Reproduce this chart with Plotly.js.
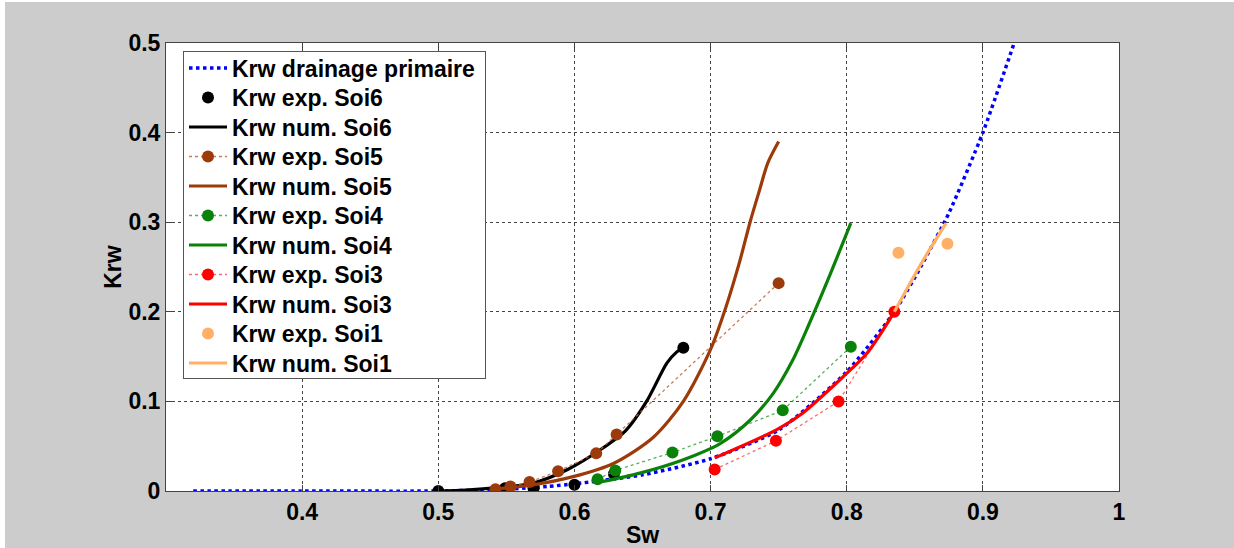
<!DOCTYPE html>
<html>
<head>
<meta charset="utf-8">
<script src="https://cdn.plot.ly/plotly-3.0.1.min.js"></script>
<style>
  html, body { margin: 0; padding: 0; background: #ffffff; width: 1234px; height: 548px; overflow: hidden; }
  #chart { position: absolute; left: 5px; top: 2px; width: 1229px; height: 546px; }
</style>
</head>
<body>
<div id="chart"></div>
<script>
// ---- data ----
const drainX = [0.32, 0.40, 0.50, 0.55, 0.58, 0.60, 0.65, 0.70, 0.75, 0.80, 0.835, 0.855, 0.875, 0.90, 0.923];
const drainY = [0.0, 0.0, 0.0, 0.002, 0.005, 0.008, 0.018, 0.036, 0.068, 0.133, 0.200, 0.252, 0.310, 0.400, 0.500];

const exp6X = [0.500, 0.549, 0.570, 0.600, 0.629, 0.680];
const exp6Y = [0.000, 0.003, 0.003, 0.007, 0.019, 0.160];
const num6X = [0.500, 0.520, 0.545, 0.570, 0.595, 0.619, 0.638, 0.653, 0.668, 0.675, 0.680];
const num6Y = [0.000, 0.001, 0.004, 0.009, 0.024, 0.046, 0.068, 0.100, 0.143, 0.155, 0.160];

const exp5X = [0.542, 0.553, 0.567, 0.588, 0.616, 0.631, 0.750];
const exp5Y = [0.002, 0.005, 0.010, 0.022, 0.042, 0.063, 0.232];
const num5X = [0.540, 0.570, 0.599, 0.629, 0.658, 0.680, 0.700, 0.711, 0.721, 0.729, 0.736, 0.742, 0.750];
const num5Y = [0.002, 0.007, 0.016, 0.031, 0.060, 0.100, 0.158, 0.204, 0.254, 0.300, 0.336, 0.366, 0.390];

const exp4X = [0.617, 0.630, 0.672, 0.705, 0.753, 0.803];
const exp4Y = [0.013, 0.023, 0.043, 0.061, 0.090, 0.161];
const num4X = [0.619, 0.648, 0.680, 0.707, 0.729, 0.746, 0.760, 0.772, 0.786, 0.803];
const num4Y = [0.010, 0.020, 0.035, 0.053, 0.079, 0.109, 0.145, 0.185, 0.235, 0.299];

const exp3X = [0.703, 0.748, 0.794, 0.835];
const exp3Y = [0.024, 0.056, 0.100, 0.200];
const num3X = [0.703, 0.748, 0.766, 0.797, 0.815, 0.835];
const num3Y = [0.037, 0.068, 0.085, 0.127, 0.154, 0.200];

const exp1X = [0.838, 0.874];
const exp1Y = [0.266, 0.276];
const num1X = [0.835, 0.854, 0.873];
const num1Y = [0.200, 0.252, 0.299];

const legendNames = [
  'Krw drainage primaire', 'Krw exp. Soi6', 'Krw num. Soi6', 'Krw exp. Soi5', 'Krw num. Soi5',
  'Krw exp. Soi4', 'Krw num. Soi4', 'Krw exp. Soi3', 'Krw num. Soi3', 'Krw exp. Soi1', 'Krw num. Soi1'
];
const xTicks = [0.4, 0.5, 0.6, 0.7, 0.8, 0.9, 1];
const xTickText = ['0.4', '0.5', '0.6', '0.7', '0.8', '0.9', '1'];
const yTicks = [0, 0.1, 0.2, 0.3, 0.4, 0.5];
const yTickText = ['0', '0.1', '0.2', '0.3', '0.4', '0.5'];

// ---- styles ----
const BLUE = '#0000ff', BLACK = '#000000', BROWN = '#9c3a0a', GREEN = '#0a820a', RED = '#ff0000', ORANGE = '#ffb066';
const MS = 12;

function numTrace(x, y, name, color) {
  return { x: x, y: y, name: name, type: 'scatter', mode: 'lines',
    line: { color: color, width: 3.2, shape: 'spline', smoothing: 0.8 } };
}
function expTrace(x, y, name, color, dashColor) {
  const t = { x: x, y: y, name: name, type: 'scatter',
    marker: { color: color, size: MS, symbol: 'circle' } };
  if (dashColor) {
    t.mode = 'lines+markers';
    t.line = { color: dashColor, width: 1.3, dash: 'dot' };
  } else {
    t.mode = 'markers';
  }
  return t;
}

const traces = [
  { x: drainX, y: drainY, name: legendNames[0], type: 'scatter', mode: 'lines',
    line: { color: BLUE, width: 3.5, dash: 'dot', shape: 'spline', smoothing: 0.6 } },
  expTrace(exp6X, exp6Y, legendNames[1], BLACK, null),
  numTrace(num6X, num6Y, legendNames[2], BLACK),
  expTrace(exp5X, exp5Y, legendNames[3], BROWN, 'rgba(190,100,60,0.85)'),
  numTrace(num5X, num5Y, legendNames[4], BROWN),
  expTrace(exp4X, exp4Y, legendNames[5], GREEN, 'rgba(60,160,60,0.85)'),
  numTrace(num4X, num4Y, legendNames[6], GREEN),
  expTrace(exp3X, exp3Y, legendNames[7], RED, 'rgba(255,90,90,0.9)'),
  numTrace(num3X, num3Y, legendNames[8], RED),
  expTrace(exp1X, exp1Y, legendNames[9], ORANGE, null),
  numTrace(num1X, num1Y, legendNames[10], ORANGE)
];

const FONT = 'Arial, "Liberation Sans", sans-serif';
const axisCommon = {
  showline: true, linecolor: '#444', linewidth: 1, mirror: 'ticks',
  ticks: 'inside', ticklen: 6, tickcolor: '#444', tickwidth: 1,
  showgrid: true, gridcolor: '#444', griddash: 'dot', gridwidth: 1,
  zeroline: false, fixedrange: true,
  tickfont: { family: FONT, size: 23, color: '#000', weight: 'bold' }
};

const layout = {
  width: 1229, height: 546,
  paper_bgcolor: '#cccccc', plot_bgcolor: '#ffffff',
  margin: { l: 161, r: 115, t: 41, b: 57, pad: 0 },
  showlegend: true,
  xaxis: Object.assign({}, axisCommon, {
    range: [0.3, 1], tickvals: xTicks, ticktext: xTickText,
    title: { text: 'Sw', font: { family: FONT, size: 23, color: '#000', weight: 'bold' }, standoff: 18 },
    automargin: false
  }),
  yaxis: Object.assign({}, axisCommon, {
    range: [0, 0.5], tickvals: yTicks, ticktext: yTickText,
    title: { text: 'Krw', font: { family: FONT, size: 23, color: '#000', weight: 'bold' }, standoff: 0 },
    automargin: false
  }),
  legend: {
    x: 0.018, y: 0.982, xanchor: 'left', yanchor: 'top',
    bgcolor: '#ffffff', bordercolor: '#555', borderwidth: 1,
    itemwidth: 38,
    font: { family: FONT, size: 23, color: '#000', weight: 'bold' },
    tracegroupgap: 0
  }
};

// legend box geometry of the reference (MATLAB packs entries tighter than Plotly)
const LEG_LEFT = 178, LEG_TOP = 49, LEG_W = 302, LEG_H = 327, LEG_FIRST = 17, LEG_STEP = 29.5;

Plotly.newPlot('chart', traces, layout, { displayModeBar: false, staticPlot: true }).then(function (gd) {
  const leg = gd.querySelector('g.legend');
  if (!leg) return;
  leg.setAttribute('transform', 'translate(' + LEG_LEFT + ',' + LEG_TOP + ')');
  const bg = leg.querySelector('rect.bg');
  if (bg) { bg.setAttribute('width', LEG_W); bg.setAttribute('height', LEG_H); }
  const items = leg.querySelectorAll('g.traces');
  items.forEach(function (el, i) {
    const m = /translate\(\s*([-\d.]+)[ ,]+([-\d.]+)/.exec(el.getAttribute('transform') || '');
    const x = m ? parseFloat(m[1]) : 1;
    el.setAttribute('transform', 'translate(' + x + ',' + (LEG_FIRST + i * LEG_STEP) + ')');
  });
});
</script>
</body>
</html>
